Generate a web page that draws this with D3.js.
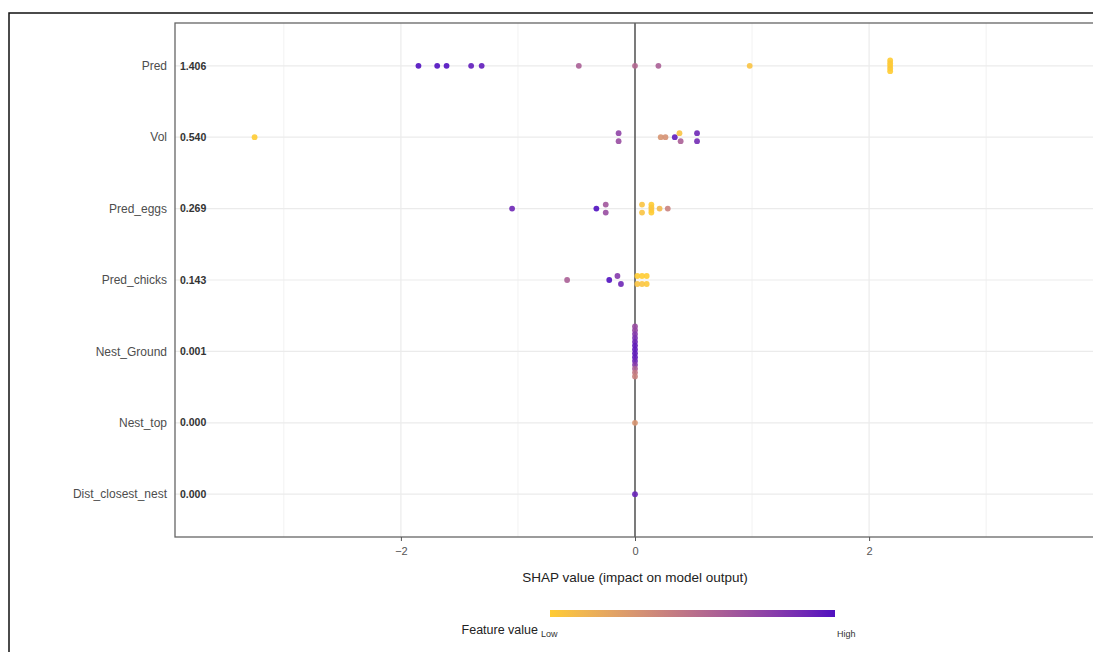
<!DOCTYPE html>
<html>
<head>
<meta charset="utf-8">
<script src="https://cdn.jsdelivr.net/npm/d3@7"></script>
<style>
	body { margin: 0; background: #ffffff; }
	svg { display: block; font-family: "Liberation Sans", Arial, sans-serif; }
</style>
</head>
<body>
<svg id="canvas" width="1093" height="652"></svg>
<script>
// features, top to bottom
var features = ["Pred", "Vol", "Pred_eggs", "Pred_chicks", "Nest_Ground", "Nest_top", "Dist_closest_nest"];
var meanAbs = ["1.406", "0.540", "0.269", "0.143", "0.001", "0.000", "0.000"];

// [shap value, normalised feature value (0 = low, 1 = high)]
var predPts = [[-1.85, 1.0], [-1.69, 1.0], [-1.61, 1.0], [-1.40, 0.95], [-1.31, 0.95], [-0.48, 0.6], [0.0, 0.55], [0.20, 0.6], [0.98, 0.05],
	[2.18, 0.0], [2.18, 0.02], [2.18, 0.0], [2.18, 0.03], [2.18, 0.0]];
var volPts = [[-3.25, 0.0], [-0.14, 0.75], [-0.14, 0.7], [0.22, 0.3], [0.26, 0.32], [0.34, 0.95], [0.38, 0.05], [0.39, 0.6], [0.53, 0.9], [0.53, 0.88]];
var eggsPts = [[-1.05, 0.9], [-0.33, 1.0], [-0.25, 0.65], [-0.25, 0.7], [0.06, 0.05], [0.06, 0.05], [0.14, 0.0], [0.14, 0.02], [0.14, 0.05], [0.14, 0.0], [0.21, 0.1], [0.28, 0.4]];
var chicksPts = [[-0.58, 0.6], [-0.22, 1.0], [-0.15, 0.8], [-0.12, 0.9], [0.02, 0.0], [0.02, 0.05], [0.06, 0.0], [0.06, 0.05], [0.10, 0.0], [0.10, 0.02]];
var groundPts = [[0.0, 0.7], [0.0, 0.72], [0.0, 0.8], [0.0, 0.85], [0.0, 0.9], [0.0, 0.95], [0.0, 0.95], [0.0, 0.95], [0.0, 0.95], [0.0, 0.9], [0.0, 0.8], [0.0, 0.6], [0.0, 0.45], [0.0, 0.4]];
var topPts = [[0.0, 0.3]];
var distPts = [[0.0, 0.92]];
var allPts = [predPts, volPts, eggsPts, chicksPts, groundPts, topPts, distPts];

var xTicks = [-2, 0, 2];
var xMinor = [-3, -1, 1, 3];

var colLow = "#FFCC33";
var colHigh = "#5010C0";

function draw(){
	var svg = d3.select("#canvas");
	var left = 175, top = 23, bottom = 537, right = 1095;

	var x = d3.scaleLinear().domain([-3.93, 3.93]).range([left, right]);
	var y = d3.scalePoint().domain(features).range([top, bottom]).padding(0.6);
	var color = d3.scaleLinear().domain([0, 1]).range([colLow, colHigh]).interpolate(d3.interpolateLab);

	// outer frame of the screenshot
	svg.append("rect")
		.attr("x", 9).attr("y", 13)
		.attr("width", 1200).attr("height", 800)
		.attr("fill", "none").attr("stroke", "#111").attr("stroke-width", 1.5);

	// grid
	svg.selectAll("line.minor")
		.data(xMinor)
		.enter()
		.append("line")
			.attr("x1", function(d){ return x(d); }).attr("x2", function(d){ return x(d); })
			.attr("y1", top).attr("y2", bottom)
			.attr("stroke", "#f2f2f2").attr("stroke-width", 1);
	svg.selectAll("line.major")
		.data(xTicks)
		.enter()
		.append("line")
			.attr("x1", function(d){ return x(d); }).attr("x2", function(d){ return x(d); })
			.attr("y1", top).attr("y2", bottom)
			.attr("stroke", "#ebebeb").attr("stroke-width", 1.2);
	svg.selectAll("line.row")
		.data(features)
		.enter()
		.append("line")
			.attr("x1", left).attr("x2", right)
			.attr("y1", function(d){ return y(d); }).attr("y2", function(d){ return y(d); })
			.attr("stroke", "#ebebeb").attr("stroke-width", 1.2);

	// zero line
	svg.append("line")
		.attr("x1", x(0)).attr("x2", x(0))
		.attr("y1", top).attr("y2", bottom)
		.attr("stroke", "#3a3a3a").attr("stroke-width", 1.3);

	// points, spread vertically by how many share a bin (sina-like)
	var binW = 6;
	var maxHalf = 0.35 * y.step();
	var maxCount = 1;
	var bins = allPts.map(function(pts){
		var groups = {};
		pts.forEach(function(p, i){
			var k = Math.round(x(p[0]) / binW);
			if(!groups[k]) groups[k] = [];
			groups[k].push(i);
		});
		for(var k in groups){
			if(groups[k].length > maxCount) maxCount = groups[k].length;
		}
		return groups;
	});
	var dots = [];
	allPts.forEach(function(pts, f){
		var groups = bins[f];
		for(var k in groups){
			var idx = groups[k];
			var n = idx.length;
			var hw = Math.max(maxHalf * Math.pow(n / maxCount, 1.5), 4);
			idx.forEach(function(i, j){
				var off = n > 1 ? -hw + 2 * hw * j / (n - 1) : 0;
				dots.push({feature: features[f], shap: pts[i][0], val: pts[i][1], off: off});
			});
		}
	});
	svg.selectAll("circle.dot")
		.data(dots)
		.enter()
		.append("circle")
			.attr("class", "dot")
			.attr("cx", function(d){ return x(d.shap); })
			.attr("cy", function(d){ return y(d.feature) + d.off; })
			.attr("r", 2.9)
			.attr("fill", function(d){ return color(d.val); })
			.attr("fill-opacity", 0.9);

	// panel border
	svg.append("rect")
		.attr("x", left).attr("y", top)
		.attr("width", right - left).attr("height", bottom - top)
		.attr("fill", "none").attr("stroke", "#666").attr("stroke-width", 1.3);

	// feature names and mean |shap|
	svg.selectAll("text.feat")
		.data(features)
		.enter()
		.append("text")
			.attr("x", left - 8)
			.attr("y", function(d){ return y(d); })
			.attr("dy", "0.35em")
			.attr("text-anchor", "end")
			.attr("font-size", 12)
			.attr("fill", "#4d4d4d")
			.text(function(d){ return d; });
	svg.selectAll("text.mean")
		.data(meanAbs)
		.enter()
		.append("text")
			.attr("x", left + 5)
			.attr("y", function(d, i){ return y(features[i]); })
			.attr("dy", "0.35em")
			.attr("font-size", 10.5)
			.attr("font-weight", "bold")
			.attr("fill", "#333")
			.text(function(d){ return d; });

	// x axis
	var axis = svg.append("g")
		.attr("transform", "translate(0," + bottom + ")")
		.call(d3.axisBottom(x).tickValues(xTicks).tickSize(4).tickPadding(6).tickFormat(d3.format("d")));
	axis.select(".domain").remove();
	axis.selectAll(".tick line").attr("stroke", "#555");
	axis.selectAll(".tick text")
		.attr("font-family", "Liberation Sans, Arial, sans-serif")
		.attr("font-size", 11)
		.attr("fill", "#555");

	svg.append("text")
		.attr("x", x(0))
		.attr("y", 582)
		.attr("text-anchor", "middle")
		.attr("font-size", 13.5)
		.attr("fill", "#222")
		.text("SHAP value (impact on model output)");

	// legend
	var defs = svg.append("defs");
	var grad = defs.append("linearGradient").attr("id", "fv");
	d3.range(0, 1.0001, 0.1).forEach(function(t){
		grad.append("stop").attr("offset", t).attr("stop-color", color(t));
	});
	var lx = 550, lw = 285;
	svg.append("rect")
		.attr("x", lx).attr("y", 610)
		.attr("width", lw).attr("height", 7)
		.attr("fill", "url(#fv)");
	svg.append("text")
		.attr("x", 538).attr("y", 634)
		.attr("text-anchor", "end")
		.attr("font-size", 12.5)
		.attr("fill", "#222")
		.text("Feature value");
	svg.append("text")
		.attr("x", 541).attr("y", 637)
		.attr("font-size", 9)
		.attr("fill", "#333")
		.text("Low");
	svg.append("text")
		.attr("x", 837).attr("y", 637)
		.attr("font-size", 9)
		.attr("fill", "#333")
		.text("High");
}

draw();
</script>
</body>
</html>
